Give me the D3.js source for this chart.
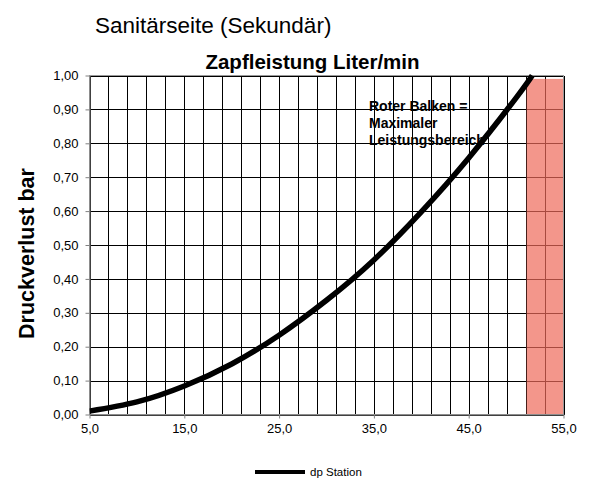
<!DOCTYPE html>
<html><head><meta charset="utf-8">
<script src="https://cdn.jsdelivr.net/npm/d3@7"></script>
<style>body{margin:0;background:#fff;font-family:"Liberation Sans",Arial,sans-serif}</style>
</head><body>
<svg id="c" width="589" height="484"></svg>
<script>
// Data
const flow = [5, 10, 15, 20, 25, 30, 35, 40, 45, 50, 51.7];
const dpStation = [0.010, 0.037, 0.084, 0.149, 0.234, 0.337, 0.456, 0.598, 0.757, 0.934, 1.0];
const xTicks = [5, 15, 25, 35, 45, 55];
const yTicks = [0, 0.1, 0.2, 0.3, 0.4, 0.5, 0.6, 0.7, 0.8, 0.9, 1.0];
const xGrid = d3.range(5, 55.01, 2);
const maxRange = [51, 55];
const maxRangeTop = 0.99;

const svg = d3.select("#c");
const L = 89.5, R = 563.5, T = 75.5, B = 414.5;
const x = d3.scaleLinear().domain([5, 55]).range([L, R]);
const y = d3.scaleLinear().domain([0, 1]).range([B, T]);
const fmt = d => d.toFixed(1).replace(".", ",");
const fmtY = d => d.toFixed(2).replace(".", ",");

// Titles
svg.append("text").attr("x", 95).attr("y", 33).attr("font-size", 22.5).text("Sanitärseite (Sekundär)");
svg.append("text").attr("x", 312.5).attr("y", 69).attr("text-anchor", "middle")
  .attr("font-size", 20.5).attr("font-weight", "bold").text("Zapfleistung Liter/min");
svg.append("text").attr("transform", "translate(34,253.5) rotate(-90)").attr("text-anchor", "middle")
  .attr("font-size", 21.5).attr("font-weight", "bold").text("Druckverlust bar");

// Gridlines
const g = svg.append("g").attr("shape-rendering", "crispEdges");
g.selectAll(".vg").data(xGrid).join("line")
  .attr("x1", d => Math.round(x(d)) + 0.5).attr("x2", d => Math.round(x(d)) + 0.5)
  .attr("y1", T).attr("y2", B).attr("stroke", "#000").attr("stroke-width", 1);
g.selectAll(".hg").data(yTicks).join("line")
  .attr("y1", d => Math.round(y(d)) + 0.5).attr("y2", d => Math.round(y(d)) + 0.5)
  .attr("x1", L).attr("x2", R).attr("stroke", "#000").attr("stroke-width", 1);

// Text annotation (under the curve)
const ann = svg.append("text").attr("x", 369).attr("font-size", 14).attr("font-weight", "bold");
["Roter Balken =", "Maximaler", "Leistungsbereich"].forEach((t, i) =>
  ann.append("tspan").attr("x", 369).attr("y", 111 + i * 17).text(t));

// Red bar
svg.append("rect").attr("x", x(maxRange[0]) + 1).attr("width", x(maxRange[1]) - x(maxRange[0]) - 1)
  .attr("y", y(maxRangeTop)).attr("height", y(0) - y(maxRangeTop))
  .attr("fill", "#ee6a5a").attr("fill-opacity", 0.7);

// Frame
svg.append("rect").attr("x", L).attr("y", T).attr("width", R - L).attr("height", B - T)
  .attr("fill", "none").attr("stroke", "#999").attr("shape-rendering", "crispEdges");

// Axes
const xAxis = svg.append("g").attr("transform", `translate(0,${B})`)
  .call(d3.axisBottom(x).tickValues(xTicks).tickFormat(fmt).tickSize(4).tickSizeOuter(0));
const yAxis = svg.append("g").attr("transform", `translate(${L},0)`)
  .call(d3.axisLeft(y).tickValues(yTicks).tickFormat(fmtY).tickSize(4).tickSizeOuter(0));
[xAxis, yAxis].forEach(a => {
  a.select(".domain").attr("stroke", "#808080");
  a.selectAll(".tick line").attr("stroke", "#808080");
  a.selectAll("text").attr("font-family", "Liberation Sans, Arial, sans-serif").attr("font-size", 13).attr("fill", "#000");
});
xAxis.selectAll("text").attr("y", 9.5);
yAxis.selectAll("text").attr("x", -11);

// Curve
svg.append("clipPath").attr("id", "clip").append("rect").attr("x", L).attr("y", T - 6).attr("width", R - L).attr("height", B - T + 10);
const line = d3.line().x((d, i) => x(flow[i])).y(d => y(d)).curve(d3.curveNatural);
svg.append("path").datum(dpStation).attr("d", line).attr("fill", "none")
  .attr("stroke", "#000").attr("stroke-width", 5.5).attr("clip-path", "url(#clip)");

// Legend
svg.append("line").attr("x1", 255).attr("x2", 305).attr("y1", 472).attr("y2", 472)
  .attr("stroke", "#000").attr("stroke-width", 4);
svg.append("text").attr("x", 310).attr("y", 476).attr("font-size", 11.5).text("dp Station");
</script>
</body></html>
